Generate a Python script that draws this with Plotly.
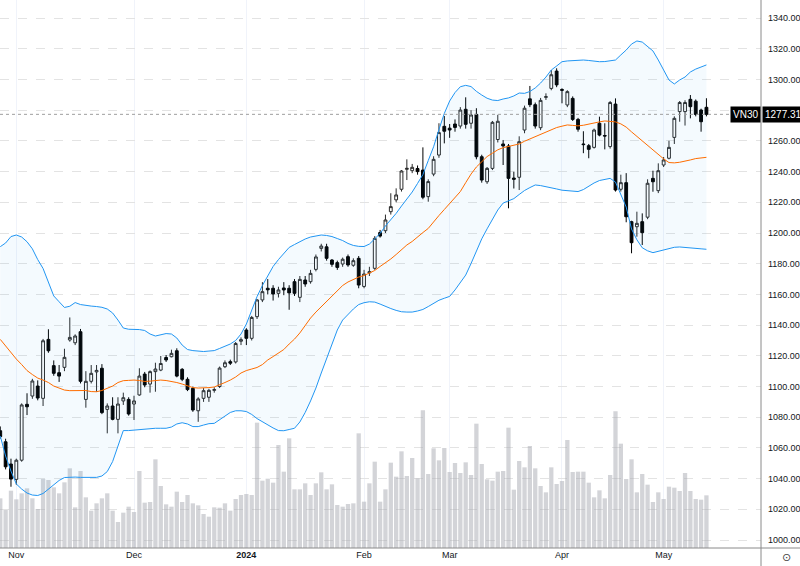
import pandas as pd
import plotly.graph_objects as go

# ---------------- data ----------------
holidays = ["2024-01-01", "2024-02-08", "2024-02-09", "2024-02-12", "2024-02-13",
            "2024-02-14", "2024-04-18", "2024-04-29", "2024-04-30", "2024-05-01"]
dates = [d.strftime("%Y-%m-%d") for d in pd.bdate_range("2023-10-27", "2024-05-14")
         if d.strftime("%Y-%m-%d") not in holidays]

tick_dates = ["2023-11-01", "2023-12-01", "2024-01-02", "2024-02-01", "2024-03-01", "2024-04-01", "2024-05-02"]
tick_labels = ["Nov", "Dec", "<b>2024</b>", "Feb", "Mar", "Apr", "May"]

open_ = [1071.2, 1064, 1049.5, 1039.5, 1052, 1088.4, 1093.8, 1100.3, 1092.3, 1130.7,
         1113.6, 1109, 1112.5, 1130.3, 1128.5, 1135.7, 1091.6, 1103.4, 1109.5, 1111.9,
         1085.1, 1087.3, 1078.6, 1090.6, 1091.6, 1088.6, 1094.5, 1108.1, 1101.6, 1109.7,
         1110.7, 1118.9, 1119.4, 1123.3, 1111.2, 1104.7, 1098.8, 1084.2, 1092.3, 1093,
         1097.5, 1100, 1112.9, 1116.2, 1116, 1129.5, 1136.8, 1131.4, 1145.5, 1156.4,
         1164, 1164, 1160.7, 1164.2, 1164, 1168.3, 1158.1, 1169.4, 1168.3, 1176.3,
         1190, 1191, 1182.4, 1180.7, 1179.8, 1184.6, 1179, 1183.5, 1165.2, 1174,
         1177, 1200.3, 1201.5, 1213.9, 1221.6, 1228.5, 1241.5, 1240.6, 1242, 1241,
         1223.7, 1238.4, 1250.8, 1269.5, 1268.3, 1271, 1269.7, 1280.6, 1271.5, 1277.3,
         1249.7, 1233.4, 1242.1, 1260.9, 1258, 1256.7, 1235.8, 1236.3, 1267.1, 1287.4,
         1283.6, 1268.6, 1288.4, 1294.2, 1305.5, 1293.5, 1283.4, 1287.7, 1274, 1258,
         1256.9, 1255.8, 1271.5, 1263.5, 1256.3, 1284, 1228.5, 1232.8, 1207.4, 1204.1,
         1207.4, 1210.3, 1235.6, 1227.6, 1244.3, 1248.7, 1262.3, 1279.1, 1279.1, 1287.1,
         1285.9, 1280.1, 1281.9]

high = [1074, 1066, 1053, 1053, 1089, 1095.6, 1105, 1104, 1131, 1137.3,
        1117, 1114, 1124.6, 1145, 1134, 1137.5, 1110, 1114, 1114, 1114.6,
        1089, 1093, 1093, 1096, 1093, 1094, 1111.9, 1109.5, 1110.5, 1115.5,
        1119.9, 1120.5, 1124, 1124.9, 1112, 1106, 1100, 1093, 1099, 1098.5,
        1099.5, 1113, 1117, 1117.5, 1129, 1132, 1138, 1146, 1157, 1168,
        1170, 1166, 1165, 1168, 1166, 1170, 1172, 1172, 1176, 1186,
        1193, 1193, 1183, 1182, 1184, 1186, 1183.5, 1185, 1176, 1178,
        1198, 1202, 1212, 1225.9, 1229.1, 1241, 1248, 1245, 1244, 1255.8,
        1235, 1250, 1271.5, 1276.2, 1271, 1274, 1282, 1288.4, 1280, 1281.3,
        1251, 1243, 1273, 1277, 1260.6, 1258, 1240, 1263, 1283, 1295.8,
        1285, 1288, 1291, 1306.2, 1307.3, 1294.3, 1293, 1289, 1275, 1266.3,
        1258, 1268, 1275.8, 1271.5, 1286, 1287.7, 1238, 1239, 1208, 1213.9,
        1212.8, 1235, 1240.6, 1245.4, 1249.5, 1260.1, 1276, 1286, 1286.5, 1289.9,
        1287, 1281, 1287.8]

low = [1066, 1046, 1034.7, 1036, 1051, 1081.4, 1092, 1091, 1087.3, 1122,
       1107, 1103, 1110, 1129.2, 1127, 1102, 1086.2, 1102, 1096.6, 1082,
       1069.5, 1078, 1069.5, 1088, 1081, 1078.2, 1094, 1099.5, 1096, 1096.6,
       1110, 1116, 1119, 1106, 1103.5, 1097, 1083.5, 1077, 1090, 1090,
       1096, 1099, 1112, 1114, 1115, 1127, 1127, 1130, 1144, 1155,
       1160, 1156, 1158, 1159.5, 1150, 1159, 1155, 1165, 1167, 1175,
       1188, 1182, 1178, 1176, 1178, 1178, 1178, 1164, 1164, 1172,
       1176, 1197, 1200, 1212, 1220, 1227, 1234.5, 1239, 1238, 1222,
       1220.4, 1237, 1249, 1258.4, 1262, 1266, 1268, 1268, 1268, 1248,
       1232.8, 1232, 1241, 1259, 1244.3, 1216.1, 1229, 1228, 1265, 1282,
       1268, 1267, 1286.7, 1293, 1295, 1284.5, 1282, 1273, 1266, 1252,
       1248.7, 1255, 1263, 1254.5, 1255, 1227, 1227, 1207, 1186.8, 1197.6,
       1192.2, 1209, 1226.9, 1226, 1243, 1248, 1258, 1272.5, 1270, 1274.7,
       1276, 1266, 1276]

close = [1067.3, 1047.7, 1039.7, 1052, 1088, 1086.8, 1103.6, 1092.5, 1129.8, 1123.3,
         1108.6, 1106.8, 1119, 1132, 1132.9, 1103.4, 1103.4, 1108.6, 1110.5, 1083,
         1087.3, 1078.6, 1088.6, 1092.7, 1082.1, 1090.6, 1106.8, 1101, 1109.7, 1111.4,
         1115, 1117.3, 1121.6, 1106.8, 1104.7, 1098, 1084.7, 1091.9, 1097.3, 1097.5,
         1098, 1112, 1115.5, 1115.2, 1128, 1130.5, 1131.4, 1145, 1156.4, 1161.8,
         1163, 1160.3, 1162.9, 1162.9, 1161, 1160.7, 1169.8, 1166.8, 1173.7, 1184.4,
         1191.5, 1183.5, 1179.6, 1177.6, 1182.9, 1179.2, 1182, 1166.1, 1173.3, 1174.8,
         1196.5, 1198, 1208.5, 1217.2, 1224.8, 1240.4, 1242.1, 1242.8, 1240, 1223.3,
         1233.5, 1248, 1265.4, 1266.3, 1267.1, 1268.8, 1280.1, 1270.8, 1276.9, 1249.7,
         1234.5, 1242.1, 1272.1, 1272.8, 1256.7, 1235.6, 1235, 1259.5, 1281.3, 1283.6,
         1269.7, 1286.4, 1288.8, 1303.1, 1296.5, 1293, 1292.1, 1274, 1267.6, 1257.6,
         1254.5, 1267.1, 1263.8, 1263.2, 1285, 1228, 1232.8, 1210.6, 1193.7, 1206.3,
         1200.2, 1232.4, 1233.4, 1240.6, 1247.6, 1255.8, 1274.7, 1285, 1285, 1282.3,
         1277.2, 1272.5, 1277.31]

volume = [149, 114, 172, 146, 164, 179, 149, 117, 207, 204,
          182, 164, 197, 239, 122, 231, 152, 112, 134, 149,
          164, 112, 78, 106, 124, 108, 231, 136, 138, 266,
          186, 131, 124, 169, 138, 159, 134, 128, 102, 94,
          122, 121, 134, 112, 147, 159, 162, 159, 376, 202,
          208, 196, 309, 229, 329, 176, 176, 194, 159, 194,
          227, 176, 191, 129, 124, 132, 134, 344, 139, 194,
          259, 139, 176, 256, 214, 290, 216, 270, 209, 413,
          222, 299, 263, 300, 228, 255, 225, 257, 219, 373,
          252, 206, 202, 229, 231, 361, 175, 261, 242, 306,
          239, 186, 167, 242, 192, 201, 324, 228, 229, 229,
          196, 152, 173, 149, 219, 410, 313, 207, 266, 167,
          222, 190, 138, 167, 147, 184, 181, 171, 225, 171,
          147, 145, 158]

bb_upper = [1191.1, 1193.5, 1197.7, 1198.7, 1197.4, 1194.3, 1189.7, 1182.7, 1176.9, 1168.1,
            1159.0, 1155.2, 1151.5, 1152.3, 1154.7, 1153.4, 1152.8, 1152.4, 1152.1, 1151.6,
            1150.5, 1147.9, 1143.3, 1138.1, 1137.3, 1137.3, 1137.1, 1136.5, 1134.2, 1132.9,
            1133.5, 1134.5, 1134.2, 1131.6, 1127.0, 1124.1, 1123.4, 1123.1, 1122.8, 1123.1,
            1123.4, 1124.8, 1126.4, 1127.7, 1130.0, 1134.2, 1140.7, 1149.8, 1158.6, 1165.8,
            1172.3, 1178.2, 1182.7, 1187.0, 1190.6, 1192.5, 1194.5, 1196.1, 1197.4, 1198.0,
            1198.7, 1198.4, 1197.7, 1196.4, 1195.1, 1193.2, 1191.9, 1191.3, 1191.2, 1192.8,
            1196.1, 1199.7, 1204.6, 1208.5, 1212.8, 1217.6, 1222.2, 1226.7, 1232.3, 1238.1,
            1247.2, 1256.2, 1267.4, 1277.9, 1286.0, 1291.5, 1295.3, 1296.2, 1295.4, 1292.3,
            1289.9, 1287.8, 1286.6, 1286.3, 1287.3, 1288.0, 1289.3, 1291.2, 1291.0, 1292.2,
            1294.5, 1297.7, 1301.6, 1306.2, 1308.8, 1311.6, 1312.1, 1312.4, 1312.7, 1312.7,
            1312.4, 1311.9, 1311.6, 1311.7, 1312.1, 1312.7, 1316.0, 1319.2, 1323.1, 1325.1,
            1324.4, 1321.8, 1318.6, 1312.7, 1306.2, 1299.7, 1297.1, 1299.7, 1301.6, 1304.9,
            1306.8, 1308.1, 1309.5]

bb_mid = [1130.7, 1126.4, 1122.1, 1117.9, 1114.3, 1110.4, 1107.8, 1105.5, 1104.2, 1102.6,
          1100.3, 1099.0, 1097.7, 1097.3, 1097.4, 1097.7, 1097.4, 1096.7, 1096.6, 1097.4,
          1098.7, 1100.3, 1102.6, 1103.8, 1104.0, 1104.2, 1103.9, 1103.3, 1103.5, 1103.9,
          1104.2, 1103.9, 1103.3, 1102.6, 1101.6, 1100.3, 1099.3, 1099.0, 1099.0, 1099.3,
          1099.7, 1101.0, 1102.6, 1104.2, 1106.2, 1108.8, 1110.4, 1111.4, 1112.4, 1114.3,
          1117.3, 1119.5, 1121.8, 1124.1, 1127.7, 1130.9, 1134.9, 1140.1, 1144.6, 1148.5,
          1152.0, 1155.4, 1159.0, 1162.9, 1165.8, 1168.1, 1169.7, 1171.3, 1172.3, 1173.9,
          1175.6, 1178.2, 1180.5, 1183.1, 1186.0, 1189.3, 1192.2, 1194.5, 1197.7, 1200.3,
          1203.0, 1207.5, 1211.4, 1215.3, 1219.1, 1223.1, 1227.0, 1232.8, 1238.4, 1243.0,
          1246.3, 1249.8, 1252.0, 1254.2, 1255.6, 1256.4, 1256.9, 1258.0, 1259.8, 1261.3,
          1262.6, 1264.0, 1265.7, 1267.5, 1268.7, 1269.6, 1270.4, 1270.1, 1269.8, 1270.2,
          1271.1, 1271.9, 1272.4, 1273.0, 1272.9, 1272.4, 1271.1, 1269.0, 1265.9, 1263.0,
          1260.0, 1256.9, 1253.9, 1250.8, 1248.3, 1245.9, 1245.7, 1246.1, 1246.7, 1247.6,
          1248.5, 1248.9, 1249.3]

bb_lower = [1067.7, 1054.7, 1044.9, 1036.5, 1033.2, 1030.6, 1029.3, 1029.0, 1030.3, 1033.2,
            1036.2, 1038.8, 1040.7, 1041.0, 1041.0, 1040.8, 1040.8, 1040.8, 1040.8, 1041.7,
            1044.6, 1051.1, 1061.9, 1071.3, 1071.3, 1071.7, 1072.0, 1072.3, 1072.6, 1072.8,
            1072.8, 1072.8, 1073.6, 1075.6, 1076.4, 1075.6, 1073.9, 1073.9, 1074.9, 1075.8,
            1076.0, 1078.2, 1080.8, 1083.1, 1084.2, 1084.2, 1083.7, 1081.8, 1079.1, 1076.9,
            1074.9, 1073.0, 1071.3, 1071.2, 1072.0, 1072.8, 1076.9, 1083.1, 1090.6, 1099.0,
            1108.8, 1118.6, 1128.3, 1136.8, 1143.3, 1147.2, 1150.5, 1153.4, 1154.6, 1155.2,
            1155.0, 1153.7, 1152.1, 1150.8, 1149.6, 1148.7, 1148.5, 1148.5, 1149.2, 1150.2,
            1152.1, 1154.4, 1156.2, 1157.5, 1158.7, 1162.9, 1167.8, 1172.6, 1180.1, 1188.4,
            1196.2, 1202.7, 1209.1, 1215.0, 1219.5, 1221.2, 1222.4, 1225.1, 1227.7, 1229.6,
            1231.3, 1230.9, 1230.3, 1229.5, 1228.7, 1227.9, 1227.6, 1227.3, 1227.0, 1228.3,
            1230.6, 1232.6, 1234.2, 1235.0, 1235.6, 1233.2, 1225.4, 1216.9, 1202.6, 1195.6,
            1190.4, 1188.4, 1187.2, 1188.1, 1188.9, 1189.8, 1190.7, 1190.9, 1190.7, 1190.4,
            1190.0, 1189.7, 1189.4]

symbol = "VN30"
last_price = close[-1]

# ---------------- figure ----------------
FONT = "Liberation Sans"
fig = go.Figure()

fig.add_trace(go.Bar(x=dates, y=volume, yaxis="y",
                     marker=dict(color="rgba(168,170,178,0.5)", line=dict(width=0)),
                     hoverinfo="skip"))

fig.add_trace(go.Scatter(x=dates, y=bb_upper, yaxis="y2", mode="lines",
                         line=dict(color="#2196F3", width=1), hoverinfo="skip"))
fig.add_trace(go.Scatter(x=dates, y=bb_lower, yaxis="y2", mode="lines",
                         line=dict(color="#2196F3", width=1), fill="tonexty",
                         fillcolor="rgba(33,150,243,0.05)", hoverinfo="skip"))
fig.add_trace(go.Scatter(x=dates, y=bb_mid, yaxis="y2", mode="lines",
                         line=dict(color="#FF6D00", width=1), hoverinfo="skip"))

fig.add_trace(go.Candlestick(x=dates, open=open_, high=high, low=low, close=close, yaxis="y2",
                             increasing=dict(fillcolor="#ffffff", line=dict(color="#2a2a2a", width=1)),
                             decreasing=dict(fillcolor="#000000", line=dict(color="#000000", width=1)),
                             whiskerwidth=0, hoverinfo="skip"))

fig.update_layout(
    width=800, height=566,
    margin=dict(l=0, r=39, t=0, b=18, autoexpand=False),
    paper_bgcolor="#ffffff", plot_bgcolor="#ffffff",
    showlegend=False, hovermode=False,
    bargap=0.2, boxgap=0.25,
    font=dict(family=FONT, size=9, color="#131722"),
    xaxis=dict(type="category", range=[-0.05, 142.2],
               tickmode="array", tickvals=tick_dates, ticktext=tick_labels,
               showgrid=True, gridcolor="#f0f3fa", gridwidth=1,
               showline=False, ticks="", zeroline=False, automargin=False,
               rangeslider=dict(visible=False), fixedrange=True,
               tickfont=dict(family=FONT, size=9, color="#131722")),
    yaxis=dict(range=[0, 1644], visible=False, showgrid=False, fixedrange=True),
    yaxis2=dict(overlaying="y", side="right", range=[994.8, 1351.8],
                tick0=1000, dtick=20, tickformat=".2f",
                showgrid=True, gridcolor="#e3e3e3", griddash="dash", gridwidth=1,
                showline=False, ticks="", zeroline=False, ticklabelstandoff=6,
                automargin=False, fixedrange=True,
                tickfont=dict(family=FONT, size=9, color="#131722")),
)

# axis frame lines
fig.add_shape(type="line", xref="paper", yref="paper", x0=1, x1=1, y0=-18 / 548, y1=1,
              line=dict(color="#8a8a8a", width=1))
fig.add_shape(type="line", xref="paper", yref="paper", x0=0, x1=800 / 761, y0=0, y1=0,
              line=dict(color="#8a8a8a", width=1))
# last price line
fig.add_shape(type="line", xref="paper", yref="y2", x0=0, x1=1, y0=last_price, y1=last_price,
              line=dict(color="#9e9e9e", width=1, dash="dot"))

fig.add_annotation(x=1, xref="paper", y=last_price, yref="y2", xanchor="right", yanchor="middle",
                   text=symbol, showarrow=False, bgcolor="#000000", borderpad=2,
                   font=dict(family=FONT, size=10, color="#ffffff"))
fig.add_annotation(x=1, xref="paper", y=last_price, yref="y2", xanchor="left", yanchor="middle",
                   xshift=1, text=f"{last_price:.2f}", showarrow=False, bgcolor="#000000", borderpad=2,
                   font=dict(family=FONT, size=10, color="#ffffff"))
fig.add_annotation(x=786 / 761, xref="paper", y=-9 / 548, yref="paper", xanchor="center", yanchor="middle",
                   text="⊙", showarrow=False, font=dict(family="DejaVu Sans", size=11, color="#444444"))

fig.write_html("out.html", config={"displayModeBar": False},
               post_script="document.body.style.margin='0';document.body.style.padding='0';")
